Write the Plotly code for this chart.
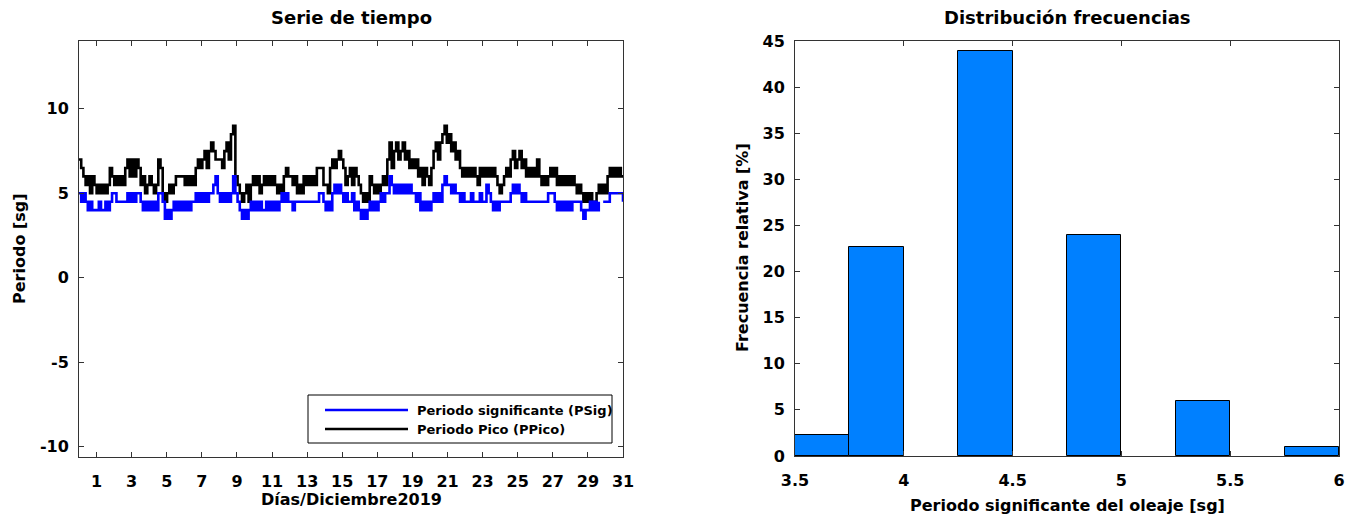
import numpy as np
import plotly.graph_objects as go

# ---------------- data ----------------
# Time series, 3-hourly values (8 per day), 31 days of December 2019
ppico_by_day = [
    [7.0, 6.5, 6.0, 5.5, 6.0, 5.0, 6.0, 5.5],
    [5.0, 5.5, 5.0, 5.5, 5.0, 5.5, 6.5, 6.0],
    [5.5, 6.0, 5.5, 6.0, 5.5, 6.5, 7.0, 6.0],
    [7.0, 6.0, 7.0, 6.5, 5.5, 6.0, 5.0, 5.5],
    [6.0, 5.5, 5.0, 5.5, 7.0, 6.5, 5.0, 4.5],
    [5.0, 5.5, 5.0, 5.5, 6.0, 6.0, 6.0, 6.0],
    [5.5, 6.0, 5.5, 6.0, 5.5, 6.5, 7.0, 6.5],
    [7.0, 7.5, 6.5, 7.5, 8.0, 7.5, 7.0, 7.0],
    [7.0, 6.5, 7.5, 8.0, 7.0, 8.5, 9.0, 6.0],
    [5.5, 5.0, 4.5, 5.0, 5.5, 4.5, 5.5, 6.0],
    [5.5, 6.0, 5.0, 5.5, 6.0, 5.5, 6.0, 5.5],
    [6.0, 5.5, 5.0, 5.5, 5.0, 6.0, 6.5, 6.0],
    [6.0, 5.5, 6.0, 5.0, 5.5, 5.0, 6.0, 5.5],
    [6.0, 5.5, 6.0, 5.5, 6.5, 6.5, 6.5, 5.5],
    [5.5, 5.0, 6.5, 7.0, 6.5, 7.0, 7.5, 7.0],
    [6.5, 5.5, 6.0, 6.5, 5.5, 6.5, 6.0, 5.5],
    [5.0, 4.5, 5.0, 4.5, 6.0, 5.5, 5.0, 5.5],
    [5.0, 5.5, 6.0, 5.5, 7.0, 8.0, 6.5, 7.5],
    [8.0, 7.0, 7.5, 8.0, 7.0, 7.5, 6.5, 7.0],
    [6.5, 7.0, 6.0, 6.5, 5.5, 6.5, 6.0, 5.5],
    [6.5, 7.5, 8.0, 7.0, 8.0, 8.5, 9.0, 8.0],
    [8.5, 7.5, 8.0, 7.0, 7.5, 6.5, 6.0, 6.5],
    [6.0, 6.5, 6.0, 6.5, 6.0, 5.5, 6.5, 6.0],
    [6.5, 6.0, 6.5, 6.0, 6.5, 6.0, 5.5, 5.0],
    [5.5, 6.0, 6.5, 6.0, 7.0, 7.5, 6.5, 7.0],
    [7.5, 6.5, 7.0, 6.0, 6.5, 6.0, 6.5, 6.0],
    [7.0, 6.0, 5.5, 6.0, 5.5, 6.0, 6.5, 6.0],
    [6.5, 5.5, 6.0, 5.5, 6.0, 5.5, 6.0, 5.5],
    [6.0, 5.5, 5.0, 5.5, 5.0, 4.5, 5.0, 4.5],
    [5.0, 4.5, 4.5, 5.0, 5.5, 5.0, 5.5, 5.0],
    [6.0, 6.5, 6.0, 6.5, 6.0, 6.5, 6.0, 6.0],
]

psig_by_day = [
    [5.0, 4.5, 5.0, 4.5, 4.0, 4.5, 4.0, 4.0],
    [4.0, 4.5, 4.0, 4.0, 4.5, 4.0, 4.5, 5.0],
    [5.0, 4.5, 4.5, 4.5, 4.5, 4.5, 5.0, 4.5],
    [5.0, 4.5, 5.0, 5.0, 4.5, 4.0, 4.5, 4.0],
    [4.5, 4.0, 4.5, 4.0, 5.0, 5.0, 4.5, 3.5],
    [4.0, 3.5, 4.0, 4.5, 4.0, 4.5, 4.0, 4.5],
    [4.0, 4.5, 4.0, 4.5, 4.5, 5.0, 4.5, 5.0],
    [4.5, 5.0, 4.5, 5.0, 5.0, 5.5, 6.0, 5.0],
    [4.5, 5.0, 4.5, 5.0, 4.5, 5.0, 6.0, 5.0],
    [4.5, 4.0, 3.5, 4.0, 3.5, 4.0, 4.5, 4.0],
    [4.5, 4.0, 4.5, 4.0, 4.0, 4.5, 4.0, 4.5],
    [4.0, 4.5, 4.0, 4.5, 5.0, 4.5, 5.0, 4.5],
    [4.5, 4.0, 4.5, 4.5, 4.5, 4.5, 4.5, 4.5],
    [4.5, 4.5, 4.5, 4.5, 4.5, 5.0, 5.0, 4.5],
    [4.0, 4.5, 4.0, 5.0, 5.5, 5.0, 5.5, 5.0],
    [4.5, 5.0, 4.5, 4.5, 5.0, 4.0, 4.5, 4.0],
    [3.5, 4.0, 3.5, 4.0, 4.5, 4.0, 4.5, 4.0],
    [4.5, 5.0, 4.5, 5.0, 5.0, 6.0, 5.5, 5.0],
    [5.5, 5.0, 5.5, 5.0, 5.5, 5.0, 5.5, 5.0],
    [5.0, 4.5, 5.0, 4.0, 4.5, 4.0, 4.5, 4.0],
    [4.5, 5.0, 4.5, 5.0, 4.5, 5.5, 6.0, 5.5],
    [5.5, 5.0, 5.5, 5.0, 5.0, 4.5, 5.0, 4.5],
    [4.5, 4.5, 5.0, 4.5, 4.5, 4.5, 5.0, 4.5],
    [4.5, 5.5, 5.0, 4.5, 4.0, 4.5, 4.0, 4.5],
    [4.5, 4.5, 4.5, 4.5, 5.0, 5.5, 5.0, 5.5],
    [5.0, 4.5, 5.0, 4.5, 4.5, 4.5, 4.5, 4.5],
    [4.5, 4.5, 4.5, 4.5, 4.5, 5.0, 5.0, 5.0],
    [4.5, 4.0, 4.5, 4.0, 4.5, 4.0, 4.5, 4.0],
    [4.5, 4.5, 4.5, 4.5, 4.0, 3.5, 4.0, 4.0],
    [4.5, 4.0, 4.5, 4.0, 4.5, None, 4.5, 4.5],
    [4.5, 5.0, 5.0, 5.0, 5.0, 5.0, 5.0, 4.5],
]

day_ticks = list(range(1, 32, 2))
y_ticks_left = [-10, -5, 0, 5, 10]
y_ticktext_left = ["-10", "-5", "0", "5", "10"]

# Histogram (relative frequency, %) of significant period, bins of 0.25 s
bin_left_edges = [3.5, 3.75, 4.0, 4.25, 4.5, 4.75, 5.0, 5.25, 5.5, 5.75]
rel_freq = [2.3, 22.7, 0.0, 43.9, 0.0, 24.0, 0.0, 6.0, 0.0, 1.0]
x_ticks_right = [3.5, 4, 4.5, 5, 5.5, 6]
x_ticktext_right = ["3.5", "4", "4.5", "5", "5.5", "6"]
y_ticks_right = list(range(0, 50, 5))

# ---------------- figure ----------------
ppico = [v for day in ppico_by_day for v in day]
psig = [v for day in psig_by_day for v in day]
n = len(ppico)
t = np.linspace(0, 31, n)

W, H = 1357, 520
FONT = "DejaVu Sans, Verdana, sans-serif"
AX = "#333333"


def px_x(p):
    return p / W


def px_y(p):
    return 1 - p / H


fig = go.Figure()

fig.add_trace(go.Scatter(x=t, y=ppico, mode="lines", line=dict(color="black", width=2.6, shape="hv"),
                         name="Periodo Pico (PPico)", xaxis="x", yaxis="y", showlegend=False,
                         connectgaps=False))
fig.add_trace(go.Scatter(x=t, y=psig, mode="lines", line=dict(color="#0000FF", width=2.6, shape="hv"),
                         name="Periodo significante (PSig)", xaxis="x", yaxis="y", showlegend=False,
                         connectgaps=False))

bin_w = 0.25
bars = [(e + bin_w / 2, f) for e, f in zip(bin_left_edges, rel_freq) if f > 0]
fig.add_trace(go.Bar(x=[b[0] for b in bars], y=[b[1] for b in bars], width=[bin_w] * len(bars),
                     marker=dict(color="#0080FF", line=dict(color="black", width=1)),
                     xaxis="x2", yaxis="y2", showlegend=False))

tickfont = dict(family=FONT, size=16, color="black")
titlefont = dict(family=FONT, size=16, color="black")
headfont = dict(family=FONT, size=18, color="black")

common = dict(showline=True, linecolor=AX, linewidth=1, mirror="ticks", ticks="inside",
              ticklen=5, tickcolor=AX, showgrid=False, zeroline=False, tickfont=tickfont,
              automargin=False)

fig.update_layout(
    width=W, height=H,
    paper_bgcolor="white", plot_bgcolor="white",
    margin=dict(l=0, r=0, t=0, b=0, autoexpand=False),
    font=dict(family=FONT, color="black"),
    xaxis=dict(domain=[px_x(79), px_x(623)], range=[0, 31], tickvals=day_ticks,
               ticktext=["<b>%d</b>" % d for d in day_ticks], anchor="y",
               ticklabelstandoff=10, **common),
    yaxis=dict(domain=[px_y(457), px_y(41)], range=[-10.62, 14.02], tickvals=y_ticks_left,
               ticktext=["<b>%s</b>" % s for s in y_ticktext_left], anchor="x",
               ticklabelstandoff=6, **common),
    xaxis2=dict(domain=[px_x(795), px_x(1339)], range=[3.5, 6], tickvals=x_ticks_right,
                ticktext=["<b>%s</b>" % s for s in x_ticktext_right], anchor="y2",
                ticklabelstandoff=10, **common),
    yaxis2=dict(domain=[px_y(456), px_y(41)], range=[0, 45], tickvals=y_ticks_right,
                ticktext=["<b>%d</b>" % v for v in y_ticks_right], anchor="x2",
                ticklabelstandoff=6, **common),
    bargap=0,
)

# titles and axis titles
texts = [
    ("<b>Serie de tiempo</b>", 351, 18, 0, headfont),
    ("<b>Distribución frecuencias</b>", 1067, 18, 0, headfont),
    ("<b>Días/Diciembre2019</b>", 351, 499, 0, titlefont),
    ("<b>Periodo significante del oleaje [sg]</b>", 1067, 505, 0, titlefont),
    ("<b>Periodo [sg]</b>", 19, 249, -90, titlefont),
    ("<b>Frecuencia relativa [%]</b>", 742, 248, -90, titlefont),
]
for txt, xx, yy, ang, fnt in texts:
    fig.add_annotation(text=txt, x=px_x(xx), y=px_y(yy), xref="paper", yref="paper",
                       showarrow=False, font=fnt, textangle=ang,
                       xanchor="center", yanchor="middle")

# manual legend (MATLAB-style)
fig.add_shape(type="rect", xref="paper", yref="paper", x0=px_x(308), x1=px_x(612),
              y0=px_y(443), y1=px_y(395), line=dict(color="black", width=1), fillcolor="white",
              layer="above")
legend_items = [("Periodo significante (PSig)", "#0000FF", 410), ("Periodo Pico (PPico)", "black", 429)]
for label, col, yy in legend_items:
    fig.add_shape(type="line", xref="paper", yref="paper", x0=px_x(325), x1=px_x(408),
                  y0=px_y(yy), y1=px_y(yy), line=dict(color=col, width=2.6), layer="above")
    fig.add_annotation(text="<b>" + label + "</b>", x=px_x(415), y=px_y(yy), xref="paper", yref="paper",
                       showarrow=False, xanchor="left", yanchor="middle",
                       font=dict(family=FONT, size=13, color="black"))

fig.write_html("out.html", config={"displayModeBar": False},
               post_script="document.body.style.margin='0';document.body.style.overflow='hidden';")
